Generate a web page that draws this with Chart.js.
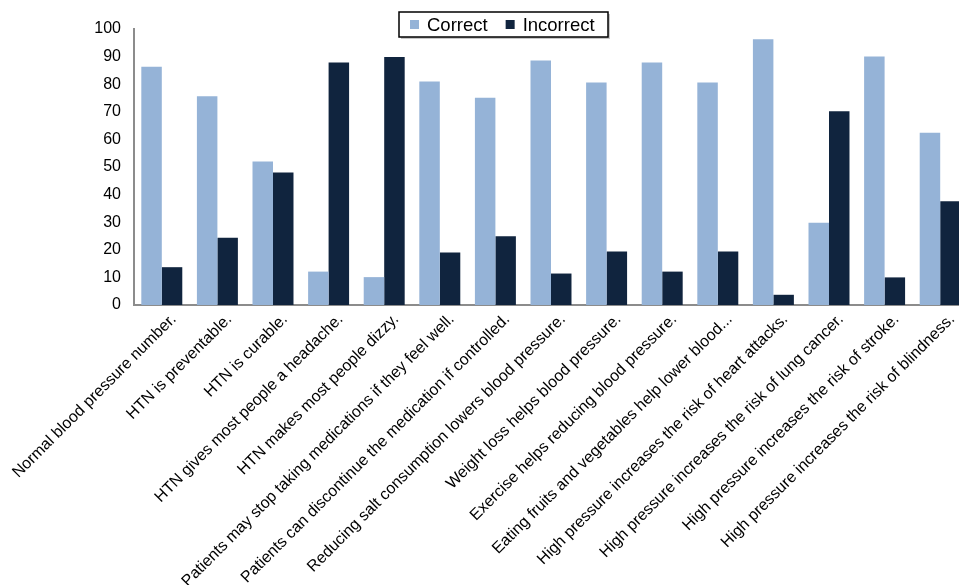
<!DOCTYPE html>
<html>
<head>
<meta charset="utf-8">
<script src="https://cdn.jsdelivr.net/npm/chart.js@4/dist/chart.umd.min.js"></script>
<style>
html,body{margin:0;padding:0;background:#fff;}
#wrap{width:959px;height:585px;position:relative;}
</style>
</head>
<body>
<div id="wrap"><canvas id="c" width="959" height="585"></canvas></div>
<script>
const categories = [
  "Normal blood pressure number.",
  "HTN is preventable.",
  "HTN is curable.",
  "HTN gives most people a headache.",
  "HTN makes most people dizzy.",
  "Patients may stop taking medications if they feel well.",
  "Patients can discontinue the medication if controlled.",
  "Reducing salt consumption lowers blood pressure.",
  "Weight loss helps blood pressure.",
  "Exercise helps reducing blood pressure.",
  "Eating fruits and vegetables help lower blood...",
  "High pressure increases the risk of heart attacks.",
  "High pressure increases the risk of lung cancer.",
  "High pressure increases the risk of stroke.",
  "High pressure increases the risk of blindness."
];
const correct   = [86.3, 75.6, 52.0, 12.1, 10.1, 81.0, 75.1, 88.6, 80.6, 87.9, 80.6, 96.3, 29.8, 90.0, 62.4];
const incorrect = [13.7, 24.4, 48.0, 87.9, 89.9, 19.0, 24.9, 11.4, 19.4, 12.1, 19.4, 3.7, 70.2, 10.0, 37.6];
const seriesNames = ["Correct", "Incorrect"];
const yTicks = [0,10,20,30,40,50,60,70,80,90,100];

const colors = ["#95b3d7", "#10243e"];
const FONT = "'Liberation Sans', Arial, Helvetica, sans-serif";

// the plot area runs slightly past the right edge of the picture (cropped figure)
const extendRight = {
  id: 'extendRight',
  afterLayout(chart) {
    const s = chart.scales.x;
    const extra = 9;
    s.right += extra; s.width += extra;
    chart.chartArea.right += extra; chart.chartArea.width += extra;
    s.configure();
  }
};

const legendPlugin = {
  id: 'boxLegend',
  afterDraw(chart) {
    const ctx = chart.ctx;
    ctx.save();
    const x0 = 399, y0 = 12, w = 209, h = 25;
    ctx.fillStyle = 'rgba(0,0,0,0.22)';
    ctx.fillRect(x0 + 2, y0 + 2, w, h);
    ctx.fillStyle = '#fff';
    ctx.fillRect(x0, y0, w, h);
    ctx.strokeStyle = '#000';
    ctx.lineWidth = 1.5;
    ctx.strokeRect(x0, y0, w, h);
    ctx.font = "18.5px " + FONT;
    ctx.textBaseline = 'middle';
    let x = x0 + 11;
    chart.data.datasets.forEach((ds, i) => {
      ctx.fillStyle = ds.backgroundColor;
      ctx.fillRect(x, y0 + 8, 9, 9);
      ctx.fillStyle = '#000';
      ctx.fillText(ds.label, x + 17, y0 + h / 2 + 1);
      x += 17 + ctx.measureText(ds.label).width + 18;
    });
    ctx.restore();
  }
};

new Chart(document.getElementById('c'), {
  type: 'bar',
  data: {
    labels: categories,
    datasets: [
      { label: seriesNames[0], data: correct, backgroundColor: colors[0] },
      { label: seriesNames[1], data: incorrect, backgroundColor: colors[1] }
    ]
  },
  options: {
    responsive: false,
    animation: false,
    devicePixelRatio: 1,
    layout: { padding: { top: 29, right: 0, left: 0, bottom: 0 } },
    plugins: { legend: { display: false }, tooltip: { enabled: false } },
    datasets: { bar: { categoryPercentage: 0.737, barPercentage: 1.0 } },
    scales: {
      x: {
        grid: { display: false, drawTicks: false },
        border: { display: true, color: '#8c8c8c', width: 2 },
        ticks: {
          autoSkip: false,
          maxRotation: 45, minRotation: 45,
          padding: 5,
          labelOffset: 12,
          color: '#000',
          font: { family: FONT, size: 16 }
        },
        afterFit(scale) {
          scale.height = 280;
          scale.paddingLeft = 0; scale.paddingRight = 0;
          scale.paddingTop = 0; scale.paddingBottom = 0;
        }
      },
      y: {
        min: 0, max: 100,
        afterBuildTicks(scale) { scale.ticks = yTicks.map(v => ({ value: v })); },
        grid: { display: false, drawTicks: false },
        border: { display: true, color: '#8c8c8c', width: 2 },
        ticks: {
          padding: 13,
          color: '#000',
          font: { family: FONT, size: 16 }
        },
        afterFit(scale) {
          scale.width = 134;
          scale.paddingTop = 0; scale.paddingBottom = 0;
        }
      }
    }
  },
  plugins: [extendRight, legendPlugin]
});
</script>
</body>
</html>
